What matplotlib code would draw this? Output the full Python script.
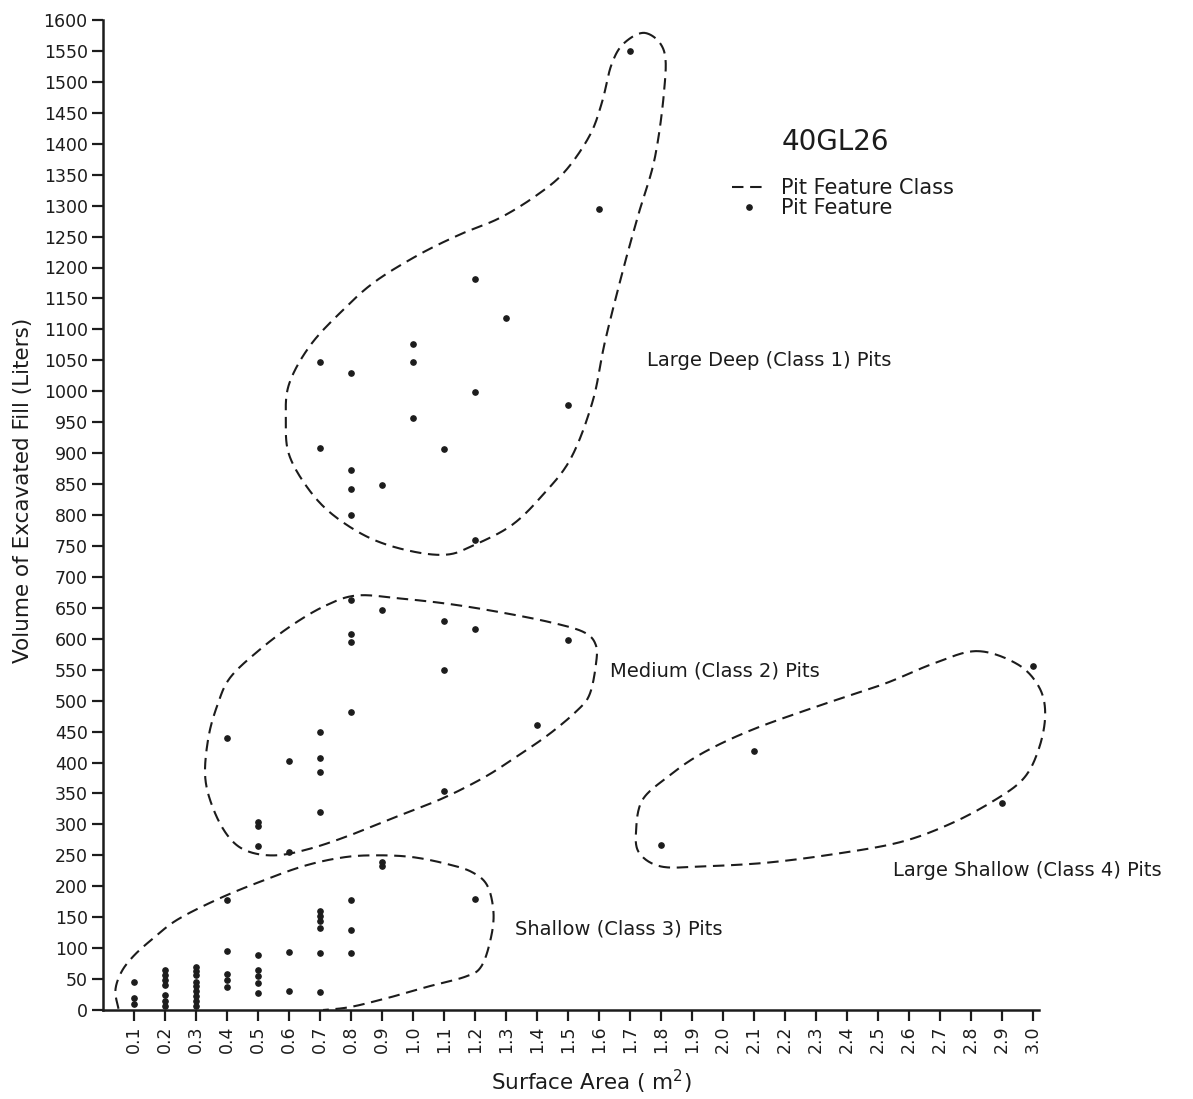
import numpy as np
import matplotlib
matplotlib.use("Agg")
import matplotlib.pyplot as plt
from matplotlib.lines import Line2D

# ---- data ----
# Large Deep (Class 1) pits
deep_area = [1.7, 1.6, 1.2, 1.3, 0.7, 1.0, 1.0, 0.8, 1.2, 1.5, 1.0, 1.1, 0.7, 0.8, 0.8, 0.9, 0.8, 1.2]
deep_vol = [1550, 1295, 1182, 1118, 1048, 1077, 1047, 1030, 998, 977, 957, 907, 908, 873, 842, 848, 800, 760]

# Medium (Class 2) pits
medium_area = [0.8, 0.9, 1.1, 1.2, 1.5, 0.8, 0.8, 1.1, 0.8, 1.4, 0.4, 0.7, 0.6, 0.7, 0.7, 1.1, 0.7, 0.5, 0.5, 0.5, 0.6]
medium_vol = [662, 647, 628, 616, 598, 607, 594, 550, 481, 460, 440, 450, 402, 408, 384, 354, 320, 304, 297, 265, 255]

# Large Shallow (Class 4) pits
lshallow_area = [1.8, 2.1, 2.9, 3.0]
lshallow_vol = [266, 418, 335, 556]

# Shallow (Class 3) pits, grouped by surface area column
shallow_cols = [0.1, 0.2, 0.3, 0.4, 0.5, 0.6, 0.7, 0.8, 0.9, 1.2]
shallow_vols = [
    [45, 20, 10],
    [64, 56, 48, 40, 25, 15, 6],
    [70, 63, 57, 45, 38, 30, 22, 14, 6],
    [178, 96, 58, 49, 37],
    [89, 64, 55, 44, 28],
    [93, 31],
    [160, 152, 144, 133, 92, 29],
    [177, 130, 92],
    [240, 232],
    [180],
]

# hand-drawn class outlines (area, volume)
deep_line_x = [1.75, 1.81, 1.81, 1.78, 1.73, 1.68, 1.62, 1.58, 1.51, 1.42, 1.32, 1.20, 1.11, 0.99, 0.86,
               0.74, 0.66, 0.60, 0.59, 0.60, 0.67, 0.78, 0.88, 1.02, 1.15, 1.28, 1.40, 1.49, 1.57, 1.61,
               1.64, 1.68]
deep_line_y = [1579, 1550, 1483, 1376, 1290, 1200, 1081, 984, 892, 833, 784, 752, 736, 742, 763,
               801, 844, 898, 952, 1011, 1075, 1134, 1178, 1221, 1253, 1280, 1317, 1355, 1413, 1467,
               1527, 1562]

medium_line_x = [0.72, 0.82, 0.96, 1.12, 1.28, 1.44, 1.55, 1.59, 1.59, 1.57, 1.53, 1.44, 1.33, 1.23,
                 1.10, 0.96, 0.80, 0.67, 0.56, 0.47, 0.41, 0.36, 0.33, 0.34, 0.37, 0.41, 0.50, 0.61]
medium_line_y = [654, 670, 665, 656, 643, 627, 611, 590, 557, 510, 484, 446, 408, 376,
                 343, 315, 283, 261, 250, 256, 277, 320, 375, 440, 494, 537, 580, 622]

lshallow_line_x = [2.82, 2.95, 3.02, 3.04, 3.02, 2.97, 2.87, 2.73, 2.57, 2.36, 2.14, 1.93, 1.80, 1.73,
                   1.72, 1.74, 1.82, 1.93, 2.09, 2.30, 2.52, 2.68]
lshallow_line_y = [580, 559, 522, 478, 423, 374, 337, 300, 271, 252, 238, 232, 232, 254,
                   290, 339, 376, 414, 452, 490, 527, 560]

shallow_line_x = [0.05, 0.04, 0.06, 0.10, 0.16, 0.24, 0.37, 0.50, 0.65, 0.78, 0.89, 1.00, 1.11, 1.19,
                  1.24, 1.26, 1.25, 1.22, 1.17, 1.05, 0.93, 0.80, 0.71]
shallow_line_y = [2, 32, 62, 88, 115, 146, 179, 206, 233, 247, 250, 247, 236, 223,
                  201, 157, 113, 70, 54, 38, 21, 5, 0]

x_ticks = np.round(np.arange(1, 31) * 0.1, 1)
y_ticks = np.arange(0, 1650, 50)

ink = "#1c1c1c"


def smooth(xs, ys, closed=True, n=24):
    # Catmull-Rom spline through the traced outline points
    pts = np.column_stack([xs, ys]).astype(float)
    if closed:
        P = np.vstack([pts[-1], pts, pts[0], pts[1]])
    else:
        P = np.vstack([pts[0], pts, pts[-1]])
    t = np.linspace(0, 1, n, endpoint=False)[:, None]
    segs = []
    for i in range(1, len(P) - 2):
        p0, p1, p2, p3 = P[i - 1], P[i], P[i + 1], P[i + 2]
        segs.append(0.5 * (2 * p1 + (-p0 + p2) * t + (2 * p0 - 5 * p1 + 4 * p2 - p3) * t ** 2
                           + (-p0 + 3 * p1 - 3 * p2 + p3) * t ** 3))
    segs.append(P[-2][None])
    c = np.vstack(segs)
    return c[:, 0], c[:, 1]


fig = plt.figure(figsize=(11.93, 10.99), dpi=100)
ax = fig.add_axes([103 / 1193, 89 / 1099, 936 / 1193, 990 / 1099])
ax.set_xlim(0, 3.02)
ax.set_ylim(0, 1600)

dash = dict(color=ink, lw=1.5, dashes=(5.5, 3.2), clip_on=False)
for lx, ly, closed in [(deep_line_x, deep_line_y, True), (medium_line_x, medium_line_y, True),
                       (lshallow_line_x, lshallow_line_y, True), (shallow_line_x, shallow_line_y, False)]:
    sx, sy = smooth(lx, ly, closed)
    ax.plot(sx, sy, **dash)

shallow_area = [a for a, vs in zip(shallow_cols, shallow_vols) for _ in vs]
shallow_vol = [v for vs in shallow_vols for v in vs]

dot = dict(ls="none", marker="o", ms=3.8, color=ink, clip_on=False)
ax.plot(deep_area, deep_vol, **dot)
ax.plot(medium_area, medium_vol, **dot)
ax.plot(lshallow_area, lshallow_vol, **dot)
ax.plot(shallow_area, shallow_vol, **dot)

# axes styling
for s in ["top", "right"]:
    ax.spines[s].set_visible(False)
for s in ["left", "bottom"]:
    ax.spines[s].set_linewidth(1.8)
    ax.spines[s].set_color(ink)

ax.set_xticks(x_ticks)
ax.set_xticklabels([f"{v:.1f}" for v in x_ticks], rotation=90)
ax.set_yticks(y_ticks)
ax.set_yticklabels([str(v) for v in y_ticks])
ax.tick_params(axis="both", direction="out", length=8, width=1.6, color=ink,
               labelcolor=ink, labelsize=12.5, pad=3)

ax.set_xlabel(r"Surface Area ( m$^{2}$)", fontsize=15.5, color=ink)
ax.xaxis.set_label_coords(0.522, -0.058)
ax.set_ylabel("Volume of Excavated Fill (Liters)", fontsize=15.5, color=ink)
ax.yaxis.set_label_coords(-0.075, 0.525)

# class labels
lab = dict(fontsize=14, color=ink, va="center", ha="left")
ax.text(1.755, 1050, "Large Deep (Class 1) Pits", **lab)
ax.text(1.635, 548, "Medium (Class 2) Pits", **lab)
ax.text(2.548, 226, "Large Shallow (Class 4) Pits", **lab)
ax.text(1.329, 131, "Shallow (Class 3) Pits", **lab)

ax.text(0.7254, 0.877, "40GL26", transform=ax.transAxes, fontsize=20, color=ink,
        va="center", ha="left")

handles = [Line2D([], [], color=ink, lw=1.5, dashes=(5.5, 3.2)),
           Line2D([], [], ls="none", marker="o", ms=3.8, color=ink)]
ax.legend(handles, ["Pit Feature Class", "Pit Feature"], loc="upper left",
          bbox_to_anchor=(0.672, 0.84), frameon=False, fontsize=15,
          borderpad=0, borderaxespad=0, labelspacing=0.0, handlelength=1.6,
          handletextpad=0.75, labelcolor=ink)

fig.savefig("out.png", dpi=100, facecolor="white")
